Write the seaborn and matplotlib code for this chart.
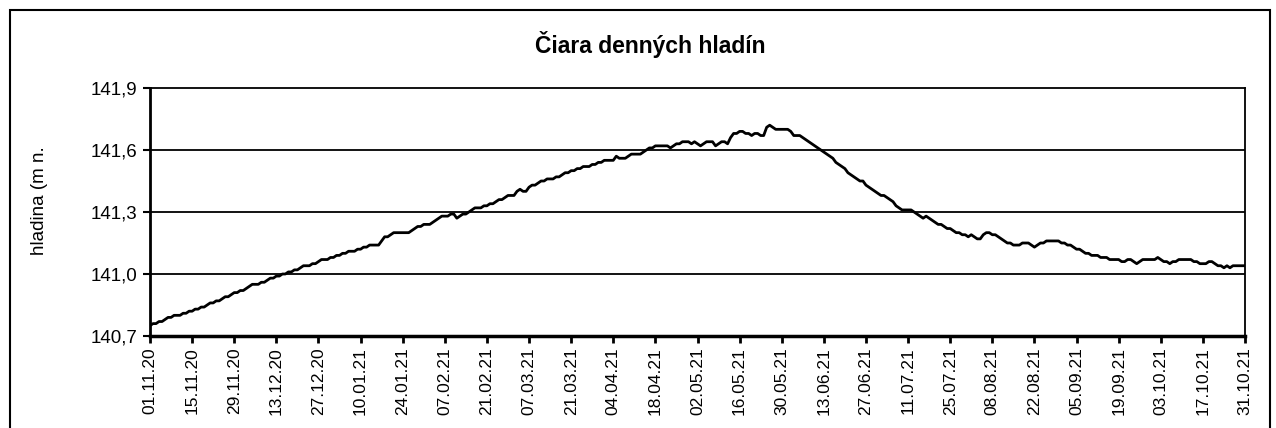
import matplotlib
matplotlib.use("Agg")
import matplotlib.pyplot as plt
import matplotlib.dates as mdates
from matplotlib.patches import Rectangle
import seaborn as sns
import pandas as pd
import numpy as np

title = "Čiara denných hladín"
ylabel = "hladina (m n."
start_date = "2020-11-01"
end_date = "2021-10-31"
y_ticks = [140.7, 141.0, 141.3, 141.6, 141.9]

levels = [
    140.75, 140.76, 140.76, 140.77, 140.77, 140.78, 140.79, 140.79, 140.80, 140.80, 140.80,
    140.81, 140.81, 140.82, 140.82, 140.83, 140.83, 140.84, 140.84, 140.85, 140.86,
    140.86, 140.87, 140.87, 140.88, 140.89, 140.89, 140.90, 140.91, 140.91, 140.92,
    140.92, 140.93, 140.94, 140.95, 140.95, 140.95, 140.96, 140.96, 140.97, 140.98,
    140.98, 140.99, 140.99, 141.00, 141.00, 141.01, 141.01, 141.02, 141.02, 141.03,
    141.04, 141.04, 141.04, 141.05, 141.05, 141.06, 141.07, 141.07, 141.07, 141.08,
    141.08, 141.09, 141.09, 141.10, 141.10, 141.11, 141.11, 141.11, 141.12, 141.12,
    141.13, 141.13, 141.14, 141.14, 141.14, 141.14, 141.16, 141.18, 141.18, 141.19,
    141.20, 141.20, 141.20, 141.20, 141.20, 141.20, 141.21, 141.22, 141.23, 141.23,
    141.24, 141.24, 141.24, 141.25, 141.26, 141.27, 141.28, 141.28, 141.28, 141.29,
    141.29, 141.27, 141.28, 141.29, 141.29, 141.30, 141.31, 141.32, 141.32, 141.32,
    141.33, 141.33, 141.34, 141.34, 141.35, 141.36, 141.36, 141.37, 141.38, 141.38,
    141.38, 141.40, 141.41, 141.40, 141.40, 141.42, 141.43, 141.43, 141.44, 141.45,
    141.45, 141.46, 141.46, 141.46, 141.47, 141.47, 141.48, 141.49, 141.49, 141.50,
    141.50, 141.51, 141.51, 141.52, 141.52, 141.52, 141.53, 141.53, 141.54, 141.54,
    141.55, 141.55, 141.55, 141.55, 141.57, 141.56, 141.56, 141.56, 141.57, 141.58,
    141.58, 141.58, 141.58, 141.59, 141.60, 141.61, 141.61, 141.62, 141.62, 141.62,
    141.62, 141.62, 141.61, 141.62, 141.63, 141.63, 141.64, 141.64, 141.64, 141.63,
    141.64, 141.63, 141.62, 141.63, 141.64, 141.64, 141.64, 141.62, 141.63, 141.64,
    141.64, 141.63, 141.66, 141.68, 141.68, 141.69, 141.69, 141.68, 141.68, 141.67,
    141.68, 141.68, 141.67, 141.67, 141.71, 141.72, 141.71, 141.70, 141.70, 141.70,
    141.70, 141.70, 141.69, 141.67, 141.67, 141.67, 141.66, 141.65, 141.64, 141.63,
    141.62, 141.61, 141.60, 141.59, 141.58, 141.57, 141.56, 141.54, 141.53, 141.52,
    141.51, 141.49, 141.48, 141.47, 141.46, 141.45, 141.45, 141.43, 141.42, 141.41,
    141.40, 141.39, 141.38, 141.38, 141.37, 141.36, 141.35, 141.33, 141.32, 141.31,
    141.31, 141.31, 141.31, 141.30, 141.29, 141.28, 141.27, 141.28, 141.27, 141.26,
    141.25, 141.24, 141.24, 141.23, 141.22, 141.22, 141.21, 141.20, 141.20, 141.19,
    141.19, 141.18, 141.19, 141.18, 141.17, 141.17, 141.19, 141.20, 141.20, 141.19,
    141.19, 141.18, 141.17, 141.16, 141.15, 141.15, 141.14, 141.14, 141.14, 141.15,
    141.15, 141.15, 141.14, 141.13, 141.14, 141.15, 141.15, 141.16, 141.16, 141.16,
    141.16, 141.16, 141.15, 141.15, 141.14, 141.14, 141.13, 141.12, 141.12, 141.11,
    141.10, 141.10, 141.09, 141.09, 141.09, 141.08, 141.08, 141.08, 141.07, 141.07,
    141.07, 141.07, 141.06, 141.06, 141.07, 141.07, 141.06, 141.05, 141.06, 141.07,
    141.07, 141.07, 141.07, 141.07, 141.08, 141.07, 141.06, 141.06, 141.05, 141.06,
    141.06, 141.07, 141.07, 141.07, 141.07, 141.07, 141.06, 141.06, 141.05, 141.05,
    141.05, 141.06, 141.06, 141.05, 141.04, 141.04, 141.03, 141.04, 141.03, 141.04,
    141.04, 141.04, 141.04, 141.04,
]

dates = pd.date_range(start_date, end_date, freq="D")
df = pd.DataFrame({"datum": dates[:len(levels)], "hladina": levels})

sns.set_theme(style="white")
plt.rcParams["font.family"] = ["Liberation Sans", "DejaVu Sans"]
plt.rcParams["text.color"] = "black"

fig = plt.figure(figsize=(12.76, 4.28), dpi=100)
ax = fig.add_axes([150 / 1276, 1 - 336 / 428, (1245 - 150) / 1276, (336 - 88) / 428])

sns.lineplot(data=df, x="datum", y="hladina", ax=ax, color="black", linewidth=2.0)

ax.set_ylim(140.7, 141.9)
ax.set_yticks(y_ticks)
ax.set_yticklabels([f"{v:.1f}".replace(".", ",") for v in y_ticks])
ax.set_xlim(pd.Timestamp(start_date), pd.Timestamp(end_date))
tick_dates = pd.date_range(start_date, end_date, freq="14D")
ax.set_xticks(tick_dates)
ax.xaxis.set_major_formatter(mdates.DateFormatter("%d.%m.%y"))
for v in y_ticks[1:-1]:
    ax.axhline(v, color="black", linewidth=1.3, zorder=1)

ax.set_xlabel("")
ax.set_ylabel("")
ax.tick_params(axis="x", rotation=90, labelsize=12.5, length=5, width=2, direction="out", bottom=True, pad=3, colors="black")
ax.tick_params(axis="y", labelsize=13.5, length=5, width=1.5, direction="out", left=True, pad=4, colors="black")
for s in ["top", "right"]:
    ax.spines[s].set_color("black")
    ax.spines[s].set_linewidth(1.3)
ax.spines["left"].set_color("black")
ax.spines["left"].set_linewidth(2)
ax.spines["bottom"].set_color("black")
ax.spines["bottom"].set_linewidth(2.5)
ax.grid(False)

fig.text(650 / 1276, 1 - 45 / 428, title, ha="center", va="center", fontsize=16.5, fontweight="bold", color="black")
fig.text(40 / 1276, 1 - 201 / 428, ylabel, ha="center", va="center", rotation=90, fontsize=13.5, color="black")

frame = Rectangle((10 / 1276, -0.1), 1260 / 1276, 1.1 - 10 / 428, transform=fig.transFigure,
                  fill=False, edgecolor="black", linewidth=1.5)
fig.patches.append(frame)

fig.savefig("out.png", dpi=100, facecolor="white")
